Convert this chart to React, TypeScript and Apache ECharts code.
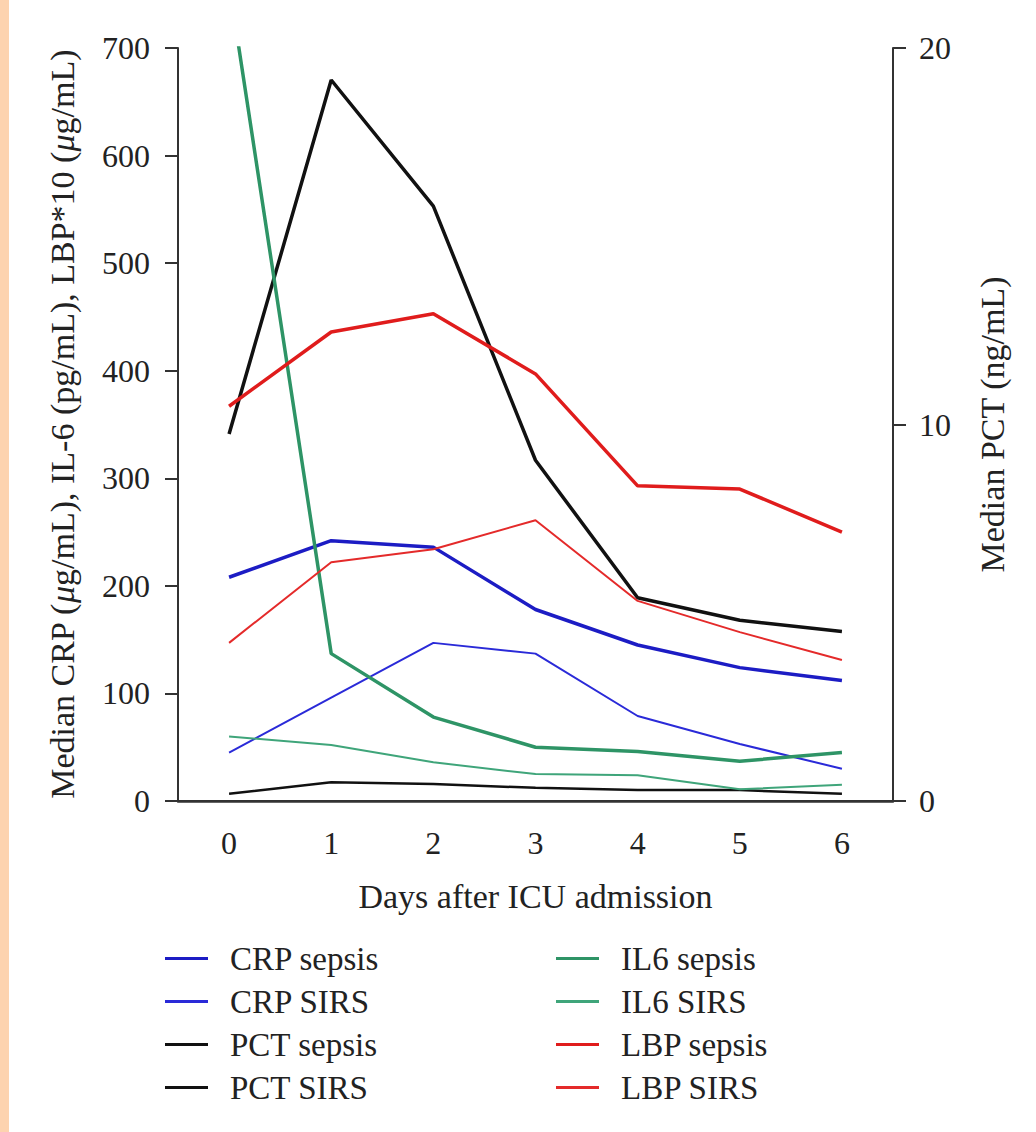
import React, { useEffect, useRef } from "react";
import * as echarts from "echarts";

const days = ["0", "1", "2", "3", "4", "5", "6"];
const leftTicks = [0, 100, 200, 300, 400, 500, 600, 700];
const rightTicks = [0, 10, 20];

const crpSepsis = [208, 242, 236, 178, 145, 124, 112];
const crpSirs = [45, 96, 147, 137, 79, 53, 30];
const pctSepsis = [9.75, 19.15, 15.8, 9.05, 5.4, 4.8, 4.5];
const pctSirs = [0.19, 0.5, 0.45, 0.35, 0.29, 0.29, 0.19];
const il6Sepsis = [760, 137, 78, 50, 46, 37, 45];
const il6Sirs = [60, 52, 36, 25, 24, 11, 15];
const lbpSepsis = [367, 436, 453, 397, 293, 290, 250];
const lbpSirs = [147, 222, 234, 261, 186, 157, 131];

const legendLeft = ["CRP sepsis", "CRP SIRS", "PCT sepsis", "PCT SIRS"];
const legendRight = ["IL6 sepsis", "IL6 SIRS", "LBP sepsis", "LBP SIRS"];

const FONT = "'Liberation Serif', 'DejaVu Serif', serif";
const TXT = "#222";

export default function App() {
  const ref = useRef<HTMLDivElement>(null);
  useEffect(() => {
    if (!ref.current) return;
    const chart = echarts.init(ref.current, undefined, { renderer: "svg" });
    const mk = (name: string, data: number[], color: string, width: number, yi = 0) => ({
      name,
      type: "line",
      data,
      yAxisIndex: yi,
      symbol: "none",
      showSymbol: false,
      clip: true,
      lineStyle: { color, width },
      itemStyle: { color },
    });
    const legendCommon = {
      orient: "vertical",
      top: 937,
      icon: "rect",
      itemWidth: 43,
      itemHeight: 3,
      itemGap: 10,
      textStyle: {
        fontFamily: FONT,
        fontSize: 33,
        color: TXT,
        lineHeight: 33,
        padding: [0, 0, 0, 17],
      },
    };
    chart.setOption({
      animation: false,
      backgroundColor: "#fff",
      graphic: [
        { type: "rect", shape: { x: 0, y: 0, width: 9, height: 1132 }, style: { fill: "#FDD3AF" } },
      ],
      grid: { left: 178, right: 143, top: 48, bottom: 331 },
      legend: [
        { ...legendCommon, left: 160, data: legendLeft },
        { ...legendCommon, left: 551, data: legendRight },
      ],
      xAxis: [
        {
          type: "category",
          data: days,
          boundaryGap: true,
          axisLine: { lineStyle: { color: "#333", width: 2 } },
          axisTick: { alignWithLabel: true, length: 15, lineStyle: { color: "#333", width: 2 } },
          axisLabel: { fontFamily: FONT, fontSize: 32, color: TXT, margin: 26 },
          name: "Days after ICU admission",
          nameLocation: "middle",
          nameGap: 78,
          nameTextStyle: { fontFamily: FONT, fontSize: 34, color: TXT },
          splitLine: { show: false },
        },
        {
          type: "category",
          data: days,
          position: "top",
          axisLine: { lineStyle: { color: "#333", width: 2.5 } },
          axisTick: { show: false },
          axisLabel: { show: false },
          splitLine: { show: false },
        },
      ],
      yAxis: [
        {
          type: "value",
          min: leftTicks[0],
          max: leftTicks[leftTicks.length - 1],
          interval: 100,
          position: "left",
          axisLine: { show: true, lineStyle: { color: "#333", width: 2 } },
          axisTick: { show: true, length: 13, lineStyle: { color: "#333", width: 2 } },
          axisLabel: { fontFamily: FONT, fontSize: 32, color: TXT, margin: 28 },
          splitLine: { show: false },
          name: "Median CRP ({i|μ}g/mL), IL-6 (pg/mL), LBP*10 ({i|μ}g/mL)",
          nameLocation: "middle",
          nameGap: 99,
          nameTextStyle: {
            fontFamily: FONT,
            fontSize: 34,
            color: TXT,
            rich: { i: { fontFamily: FONT, fontSize: 34, color: TXT, fontStyle: "italic" } },
          },
        },
        {
          type: "value",
          min: rightTicks[0],
          max: rightTicks[rightTicks.length - 1],
          interval: 10,
          position: "right",
          axisLine: { show: true, lineStyle: { color: "#333", width: 2 } },
          axisTick: { show: true, length: 13, lineStyle: { color: "#333", width: 2 } },
          axisLabel: { fontFamily: FONT, fontSize: 32, color: TXT, margin: 26 },
          splitLine: { show: false },
          name: "Median PCT (ng/mL)",
          nameLocation: "middle",
          nameGap: 82,
          nameTextStyle: { fontFamily: FONT, fontSize: 34, color: TXT },
        },
      ],
      series: [
        mk("CRP sepsis", crpSepsis, "#1c1cc4", 3.5),
        mk("CRP SIRS", crpSirs, "#2a2ad8", 2),
        mk("PCT sepsis", pctSepsis, "#111", 3.5, 1),
        mk("PCT SIRS", pctSirs, "#111", 2.5, 1),
        mk("IL6 sepsis", il6Sepsis, "#2e9466", 3.5),
        mk("IL6 SIRS", il6Sirs, "#3fa57a", 2),
        mk("LBP sepsis", lbpSepsis, "#e01c1c", 3.5),
        mk("LBP SIRS", lbpSirs, "#e42a2a", 2),
      ],
    });
    return () => chart.dispose();
  }, []);
  return (
    <div
      ref={ref}
      style={{ position: "absolute", left: 0, top: 0, width: 1036, height: 1132 }}
    />
  );
}
